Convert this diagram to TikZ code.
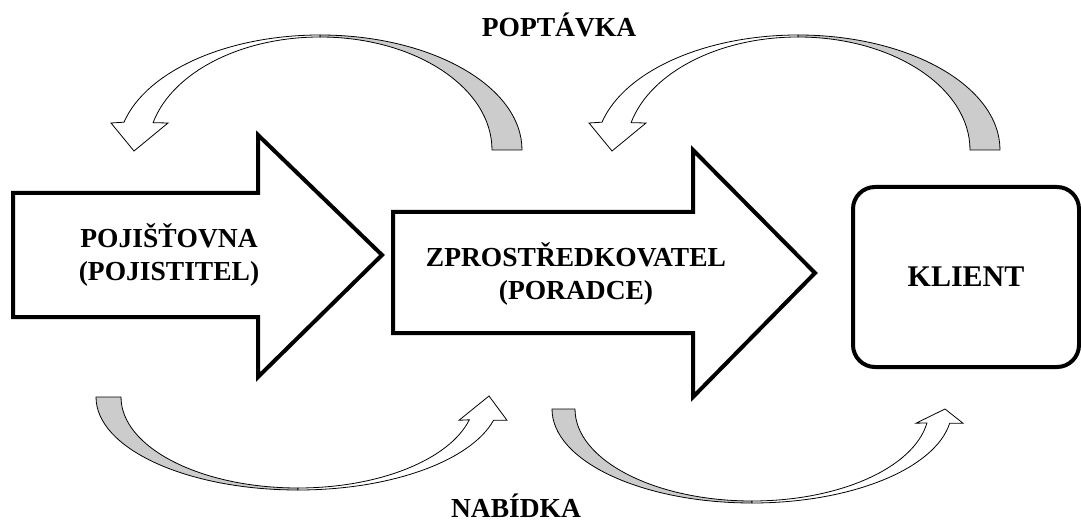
\documentclass[tikz,border=0pt]{standalone}
\usepackage{fontspec}
\setmainfont{Liberation Serif}
\usepackage{xcolor}
\usepackage{tikz}
\definecolor{ink}{HTML}{000000}
\definecolor{paper}{HTML}{FFFFFF}
\definecolor{backside}{HTML}{CCCCCC}
\tikzset{
  block/.style={draw=ink, fill=paper, line width=4pt, line join=miter},
  band/.style={draw=ink, fill=paper, line width=0.8pt, line join=miter},
  bandback/.style={band, fill=backside},
  lab/.style={text=ink, font=\bfseries\fontsize{27.5}{33}\selectfont, align=center, inner sep=0pt},
  boxc/.style={draw=ink, fill=paper, line width=4pt, rounded corners=22pt, minimum width=226pt, minimum height=180pt},
}

\begin{document}
\begin{tikzpicture}[x=1pt,y=-1pt]
  \useasboundingbox (0,0) rectangle (1081,521);

  % upper ribbons (enquiry), drawn in pixel units
  \foreach \cx in {320,798}{
    \begin{scope}[shift={(\cx,150)}]
      \draw[bandback] (202,0) arc[start angle=0, end angle=-90, x radius=202, y radius=115]
        -- (0,-113) arc[start angle=-90, end angle=0, x radius=172, y radius=113] -- cycle;
      \draw[band] (0,-115) arc[start angle=-90, end angle=-166, x radius=202, y radius=115]
        -- (-209,-27) -- (-186,1) -- (-152,-27)
        -- ({172*cos(-166)},{113*sin(-166)}) arc[start angle=-166, end angle=-90, x radius=172, y radius=113] -- cycle;
    \end{scope}
  }

  % lower ribbons (offer)
  \foreach \cx/\cy/\ro/\hro/\ri/\hri/\ha/\wa/\wb/\tx/\ty in
      {298/397/202/93/177/91/14.5/161/209/191/-1, 752/409/200/94/177/92/8.7/164/211/193/0}{
    \begin{scope}[shift={(\cx,\cy)}]
      \draw[bandback] (-\ro,0) arc[start angle=180, end angle=90, x radius=\ro, y radius=\hro]
        -- (0,\hri) arc[start angle=90, end angle=180, x radius=\ri, y radius=\hri] -- cycle;
      \draw[band] (0,\hro) arc[start angle=90, end angle=\ha, x radius=\ro, y radius=\hro]
        -- (\wb,{\hro*sin(\ha)}) -- (\tx,\ty) -- (\wa,{\hro*sin(\ha)})
        -- ({\ri*cos(\ha)},{\hri*sin(\ha)}) arc[start angle=\ha, end angle=90, x radius=\ri, y radius=\hri] -- cycle;
    \end{scope}
  }

  % block arrows
  \draw[block] (13,193) -- (258,193) -- (258,135) -- (382,255) -- (258,377) -- (258,317) -- (13,317) -- cycle;
  \draw[block] (393,212) -- (693,212) -- (693,150) -- (815,273) -- (693,397) -- (693,333) -- (393,333) -- cycle;

  \node[lab] (insurer) at (169,255) {POJIŠŤOVNA\\(POJISTITEL)};
  \node[lab] (broker) at (576,274) {ZPROSTŘEDKOVATEL\\(PORADCE)};
  \node[boxc, lab, font=\bfseries\fontsize{30}{36}\selectfont] (client) at (966,277) {KLIENT};

  \node[lab, anchor=base] (enquiry) at (559,37) {POPTÁVKA};
  \node[lab, anchor=base] (offer) at (516,517) {NABÍDKA};
\end{tikzpicture}
\end{document}
